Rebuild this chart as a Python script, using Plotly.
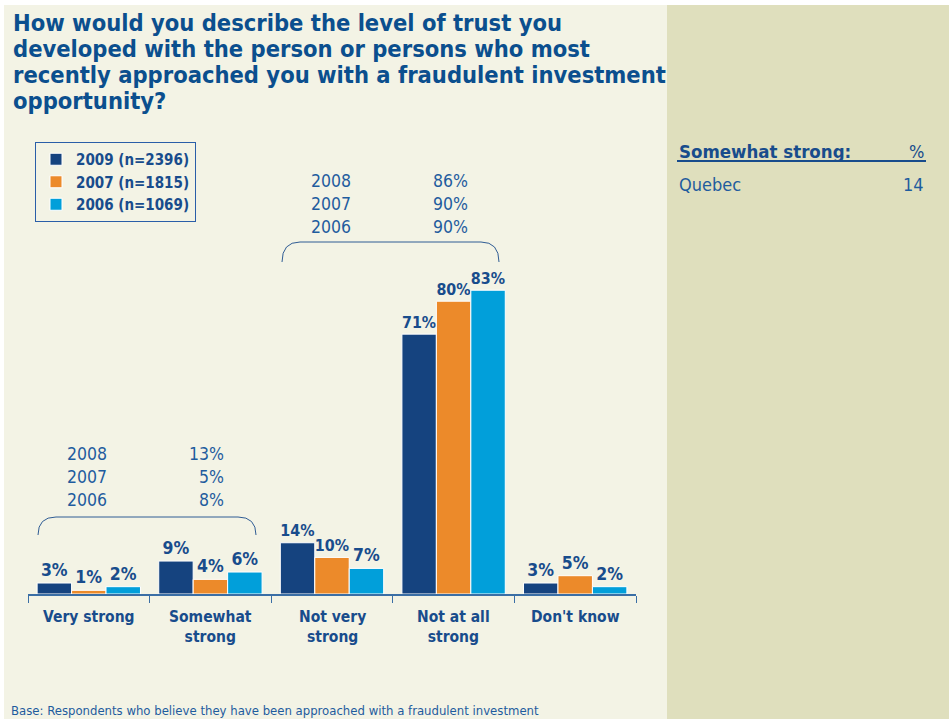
import plotly.graph_objects as go

# survey data
categories = ["Very strong", "Somewhat<br>strong", "Not very<br>strong", "Not at all<br>strong", "Don't know"]
series_names = ["2009 (n=2396)", "2007 (n=1815)", "2006 (n=1069)"]
values_2009 = [3, 9, 14, 71, 3]
values_2007 = [1, 4, 10, 80, 5]
values_2006 = [2, 6, 7, 83, 2]
colors = ["#15437F", "#EC8A2A", "#019FDA"]

# comparison notes
top_years = ["2008", "2007", "2006"]
top_pcts = ["86%", "90%", "90%"]
left_years = ["2008", "2007", "2006"]
left_pcts = ["13%", "5%", "8%"]

title_lines = ["How would you describe the level of trust you",
               "developed with the person or persons who most",
               "recently approached you with a fraudulent investment",
               "opportunity?"]
FOOTER = "Base: Respondents who believe they have been approached with a fraudulent investment"

W, H = 949, 719
L, R, T, B = 28, 636, 228, 594   # plot area in pixels
DARK = "#184C8C"
TXT = "#1F5C9E"
FONT = "DejaVu Sans Condensed"


def px(x):
    return (x - L) / (R - L)


def py(y):
    return (B - y) / (B - T)


fig = go.Figure()
xs = list(range(len(categories)))
for name, vals, col in zip(series_names, [values_2009, values_2007, values_2006], colors):
    fig.add_trace(go.Bar(
        x=xs, y=vals, name=f"<b>{name}</b>",
        marker=dict(color=col, line=dict(color="white", width=1)),
        text=[f"<b>{v}%</b>" for v in vals], textposition="outside",
        textfont=dict(family=FONT, size=17.5, color=DARK),
        cliponaxis=False,
    ))

shapes = [
    dict(type="rect", xref="paper", yref="paper", x0=px(4), x1=px(667), y0=py(719), y1=py(5),
         fillcolor="#F3F3E5", line_width=0, layer="below"),
    dict(type="rect", xref="paper", yref="paper", x0=px(667), x1=px(949), y0=py(719), y1=py(5),
         fillcolor="#DFDFBD", line_width=0, layer="below"),
    dict(type="line", xref="paper", yref="paper", x0=px(677), x1=px(926), y0=py(161), y1=py(161),
         line=dict(color=DARK, width=2)),
]


def bracket(x0, x1, yb, yt, r=18):
    return dict(type="path", xref="paper", yref="paper",
                path=(f"M {px(x0)},{py(yb)} Q {px(x0)},{py(yt)} {px(x0 + r)},{py(yt)} "
                      f"L {px(x1 - r)},{py(yt)} Q {px(x1)},{py(yt)} {px(x1)},{py(yb)}"),
                line=dict(color="#2F5C94", width=1))


shapes.append(bracket(282, 499, 262, 242))
shapes.append(bracket(38, 256, 535, 517))

ann = []
for k, line in enumerate(title_lines):
    ann.append(dict(text=f"<b>{line}</b>", xref="paper", yref="paper", x=px(11), y=py(23 + 26 * k),
                    xanchor="left", yanchor="middle", align="left", showarrow=False,
                    font=dict(family=FONT, size=23.5, color="#0B4F8E")))
for i, c in enumerate(categories):
    ann.append(dict(text=f"<b>{c}</b>", x=i, xref="x", yref="paper", y=py(606),
                    xanchor="center", yanchor="top", showarrow=False,
                    font=dict(family=FONT, size=15.5, color=DARK)))
note_font = dict(family=FONT, size=17.5, color=TXT)
ann.append(dict(text="<br>".join(top_years), xref="paper", yref="paper", x=px(309), y=py(169),
                xanchor="left", yanchor="top", align="left", showarrow=False, font=note_font))
ann.append(dict(text="<br>".join(top_pcts), xref="paper", yref="paper", x=px(470), y=py(169),
                xanchor="right", yanchor="top", align="right", showarrow=False, font=note_font))
ann.append(dict(text="<br>".join(left_years), xref="paper", yref="paper", x=px(65), y=py(442),
                xanchor="left", yanchor="top", align="left", showarrow=False, font=note_font))
ann.append(dict(text="<br>".join(left_pcts), xref="paper", yref="paper", x=px(226), y=py(442),
                xanchor="right", yanchor="top", align="right", showarrow=False, font=note_font))
ann.append(dict(text="<b>Somewhat strong:</b>", xref="paper", yref="paper", x=px(677), y=py(151),
                xanchor="left", yanchor="middle", showarrow=False,
                font=dict(family=FONT, size=18.5, color=DARK)))
ann.append(dict(text="%", xref="paper", yref="paper", x=px(926), y=py(151),
                xanchor="right", yanchor="middle", showarrow=False,
                font=dict(family=FONT, size=18, color=DARK)))
ann.append(dict(text="Quebec", xref="paper", yref="paper", x=px(677), y=py(184),
                xanchor="left", yanchor="middle", showarrow=False,
                font=dict(family=FONT, size=18, color=TXT)))
ann.append(dict(text="14", xref="paper", yref="paper", x=px(926), y=py(184),
                xanchor="right", yanchor="middle", showarrow=False,
                font=dict(family=FONT, size=18, color=TXT)))
ann.append(dict(text=FOOTER, xref="paper", yref="paper", x=px(9), y=py(710),
                xanchor="left", yanchor="middle", showarrow=False,
                font=dict(family=FONT, size=13, color=TXT)))

fig.update_layout(
    width=W, height=H,
    margin=dict(l=L, r=W - R, t=T, b=H - B),
    paper_bgcolor="white", plot_bgcolor="rgba(0,0,0,0)",
    barmode="group", bargap=0.15, bargroupgap=0,
    showlegend=True,
    legend=dict(x=px(35), y=py(142), xanchor="left", yanchor="top",
                bgcolor="rgba(0,0,0,0)", bordercolor="#2A5EA8", borderwidth=1,
                font=dict(family=FONT, size=15, color=DARK), itemwidth=30,
                tracegroupgap=0, traceorder="normal"),
    xaxis=dict(range=[-0.5, len(categories) - 0.5], tickmode="array",
               tickvals=[i - 0.5 for i in range(len(categories) + 1)],
               showticklabels=False, ticks="outside", ticklen=7, tickcolor="#3A6EA5",
               showline=True, linecolor="#3A6EA5", linewidth=1.5, showgrid=False, zeroline=False),
    yaxis=dict(range=[0, 100], visible=False),
    shapes=shapes, annotations=ann,
)

fig.write_html("out.html", config={"displayModeBar": False},
               post_script="document.body.style.margin='0';")
